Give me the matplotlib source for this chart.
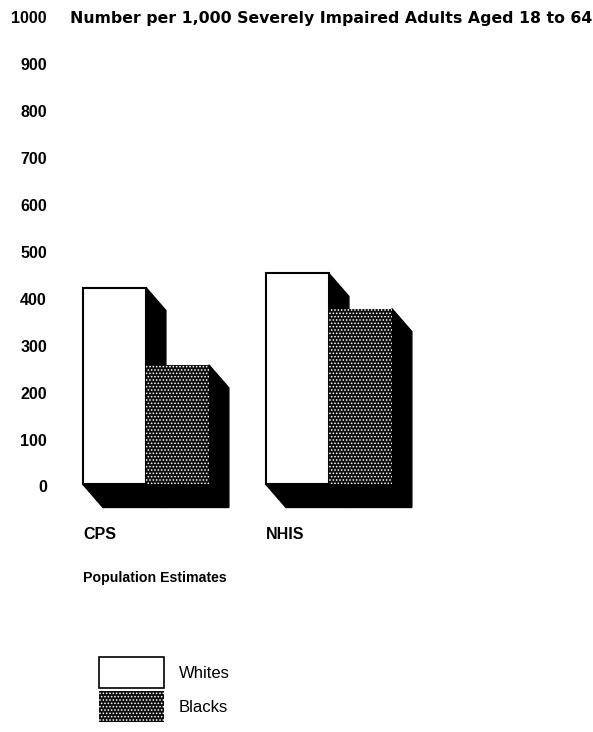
import matplotlib
matplotlib.use("Agg")
import matplotlib.pyplot as plt
import matplotlib.transforms as mtransforms
from matplotlib.patches import Rectangle, Polygon

plt.rcParams['font.family'] = ['Liberation Sans', 'DejaVu Sans']
plt.rcParams['hatch.color'] = 'white'
plt.rcParams['hatch.linewidth'] = 0.7

# rates per 1,000 severely impaired adults aged 18 to 64
categories = ["CPS", "NHIS"]
whites = [420, 450]
blacks = [255, 375]
yticks = list(range(0, 1001, 100))

fig = plt.figure(figsize=(5.93, 7.32), dpi=100)
ax = fig.add_axes([83 / 593, 1 - 520 / 732, 510 / 593, 520 / 732])
ax.set_xlim(-0.344, -0.344 + 510 / 183)
ax.set_ylim(-75.7, 1033)
for s in ax.spines.values():
    s.set_visible(False)

w = 0.344      # bar width
dx = 0.109     # depth of the extrusion, x units
dy = 49        # depth of the extrusion, value units
dark = '#0d0d0d'


def bar3d(x0, h, face, hatch=None):
    # black side + bottom face, drawn under the front
    side = Polygon([(x0, 0), (x0 + dx, -dy), (x0 + w + dx, -dy),
                    (x0 + w + dx, h - dy), (x0 + w, h), (x0 + w, 0)],
                   closed=True, facecolor='black', edgecolor='black',
                   lw=1, clip_on=False)
    ax.add_patch(side)
    if hatch:
        front = Rectangle((x0, 0), w, h, facecolor=face, hatch=hatch,
                          lw=0, clip_on=False)
    else:
        front = Rectangle((x0, 0), w, h, facecolor=face, edgecolor='black',
                          lw=1.5, clip_on=False)
    ax.add_patch(front)


for i, cat in enumerate(categories):
    bar3d(i - w, whites[i], 'white')
    bar3d(i, blacks[i], dark, hatch='.....')

ax.set_yticks(yticks)
ax.set_yticklabels([str(t) for t in yticks], fontsize=11.5, fontweight='bold')
ax.tick_params(axis='y', length=0, pad=26)
shift = mtransforms.ScaledTranslation(0, -0.02, fig.dpi_scale_trans)
for lab in ax.get_yticklabels():
    lab.set_transform(lab.get_transform() + shift)

ax.set_xticks([i - w for i in range(len(categories))])
ax.set_xticklabels(categories, fontsize=11.5, fontweight='bold', ha='left')
ax.tick_params(axis='x', length=0, pad=5)
ax.set_xlabel("Population Estimates", loc='left', fontsize=10.2,
              fontweight='bold', labelpad=21)

fig.text(70 / 593, 1 - 18 / 732,
         "Number per 1,000 Severely Impaired Adults Aged 18 to 64",
         fontsize=11.35, fontweight='bold', family='DejaVu Sans',
         va='center', ha='left')

h_w = Rectangle((0, 0), 1, 1, facecolor='white', edgecolor='black', lw=1.2)
h_b = Rectangle((0, 0), 1, 1, facecolor=dark, hatch='.....')
fs_px = 12 / 72 * 100
fig.legend([h_w, h_b], ["Whites", "Blacks"], loc='upper left',
           bbox_to_anchor=(99 / 593, 1 - 657 / 732), frameon=False,
           fontsize=12, handlelength=65 / fs_px, handleheight=2.485,
           handletextpad=0.9, labelspacing=0.18, borderpad=0,
           borderaxespad=0)

fig.savefig("out.png", dpi=100)
